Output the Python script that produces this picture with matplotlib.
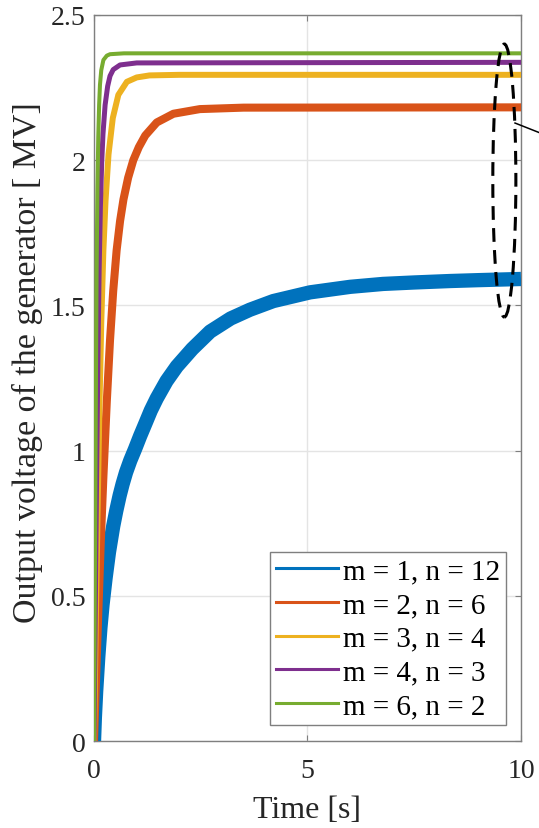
import matplotlib
matplotlib.use("Agg")
import matplotlib.pyplot as plt
from matplotlib.lines import Line2D
from matplotlib.patches import Ellipse

plt.rcParams['font.family'] = ['Liberation Serif', 'DejaVu Serif']

# values
t_m1 = [0, 0.02, 0.05, 0.1, 0.15, 0.2, 0.27, 0.35, 0.45, 0.52, 0.6, 0.67,
        0.75, 0.85, 0.96, 1.08, 1.2, 1.33, 1.47, 1.7, 1.94, 2.3, 2.72, 3.2,
        3.65, 4.2, 5.06, 6.0, 6.77, 7.5, 8.34, 9.0, 10]
v_m1 = [0, 0.08, 0.17, 0.29, 0.39, 0.47, 0.56, 0.65, 0.74, 0.792, 0.845,
        0.885, 0.925, 0.966, 1.005, 1.05, 1.092, 1.138, 1.18, 1.24, 1.29,
        1.35, 1.41, 1.455, 1.485, 1.515, 1.545, 1.564, 1.574, 1.579, 1.584,
        1.587, 1.591]

t_m2 = [0, 0.05, 0.1, 0.16, 0.22, 0.3, 0.375, 0.45, 0.53, 0.61, 0.69, 0.8,
        0.92, 1.05, 1.2, 1.47, 1.86, 2.48, 3.5, 10]
v_m2 = [0, 0.22, 0.44, 0.69, 0.91, 1.17, 1.38, 1.55, 1.69, 1.79, 1.865,
        1.94, 2.0, 2.045, 2.085, 2.13, 2.16, 2.176, 2.181, 2.182]

t_m3 = [0, 0.04, 0.08, 0.125, 0.17, 0.22, 0.27, 0.34, 0.44, 0.57, 0.77, 1.0,
        1.3, 2, 10]
v_m3 = [0, 0.38, 0.75, 1.13, 1.44, 1.69, 1.86, 2.02, 2.145, 2.225, 2.27,
        2.285, 2.292, 2.294, 2.294]

t_m4 = [0, 0.03, 0.06, 0.09, 0.12, 0.15, 0.18, 0.21, 0.26, 0.32, 0.375,
        0.45, 0.61, 1.0, 10]
v_m4 = [0, 0.45, 0.9, 1.3, 1.62, 1.84, 1.99, 2.09, 2.19, 2.255, 2.29, 2.312,
        2.328, 2.335, 2.337]

t_m6 = [0, 0.02, 0.04, 0.06, 0.08, 0.1, 0.12, 0.14, 0.17, 0.22, 0.3, 0.375,
        0.7, 10]
v_m6 = [0, 0.55, 1.1, 1.6, 1.9, 2.08, 2.19, 2.26, 2.31, 2.345, 2.36, 2.365,
        2.368, 2.368]

labels = ['m = 1, n = 12', 'm = 2, n = 6', 'm = 3, n = 4',
          'm = 4, n = 3', 'm = 6, n = 2']
colors = ['#0072BD', '#D95319', '#EDB120', '#7E2F8E', '#77AC30']
widths = [10.3, 5.8, 4.3, 3.6, 2.9]

x_ticks = [0, 5, 10]
y_ticks = [0, 0.5, 1, 1.5, 2, 2.5]

fig = plt.figure(figsize=(5.39, 8.29), dpi=100)
ax = fig.add_axes([0.1744, 0.1049, 0.7922, 0.8758])

series = [(t_m1, v_m1), (t_m2, v_m2), (t_m3, v_m3), (t_m4, v_m4), (t_m6, v_m6)]
for (t, v), c, w in zip(series, colors, widths):
    ax.plot(t, v, color=c, lw=w, solid_capstyle='butt',
            solid_joinstyle='round', zorder=3)

ax.set_xlim(0, 10)
ax.set_ylim(0, 2.5)
ax.set_xticks(x_ticks)
ax.set_yticks(y_ticks)
ax.set_xticklabels([str(x) for x in x_ticks])
ax.set_yticklabels(['0', '0.5', '1', '1.5', '2', '2.5'])
ax.grid(True, color='#e4e4e4', lw=1.0)
ax.set_axisbelow(True)
ax.tick_params(direction='in', length=4.5, width=0.8, top=True, right=True,
               labelsize=20, colors='#7f7f7f', labelcolor='#262626')
ax.tick_params(axis='x', pad=12.5)
ax.tick_params(axis='y', pad=6)
for s in ax.spines.values():
    s.set_color('#7f7f7f')
    s.set_linewidth(1.0)

ax.set_xlabel('Time [s]', fontsize=23, color='#262626', labelpad=8)
ax.set_ylabel('Output voltage of the generator [ MV]', fontsize=24.5,
              color='#262626')
ax.yaxis.set_label_coords(-0.12, 0.522)

# dashed ellipse marking the steady state region
ell = Ellipse((9.61, 1.93), 0.54, 0.94, fill=False, edgecolor='black',
              lw=2.2, linestyle=(0, (4.5, 2.7)), zorder=5, clip_on=False)
ax.add_patch(ell)
ax.plot([9.86, 10.6], [2.128, 2.085], color='black', lw=1.1,
        clip_on=False, zorder=5)

handles = [Line2D([0], [0], color=c, lw=2.2) for c in colors]
leg = ax.legend(handles, labels, loc='lower right',
                bbox_to_anchor=(0.965, 0.022), borderaxespad=0,
                fontsize=21, fancybox=False, framealpha=1,
                edgecolor='#7f7f7f', handlelength=2.12, handletextpad=0.17,
                labelspacing=0.25, borderpad=0.2)
leg.get_frame().set_linewidth(1.0)
leg.set_zorder(6)

fig.savefig('out.png', dpi=100)
